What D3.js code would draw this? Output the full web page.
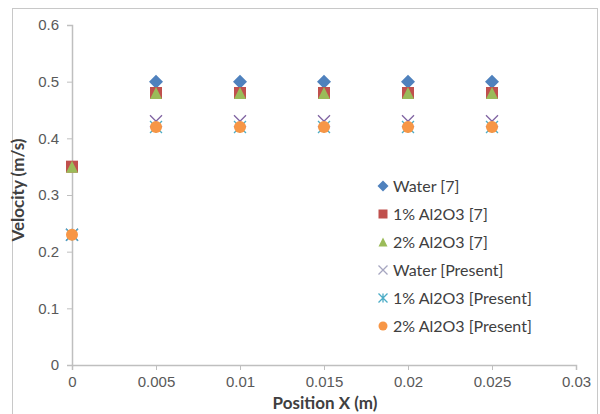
<!DOCTYPE html>
<html>
<head>
<meta charset="utf-8">
<script src="https://cdn.jsdelivr.net/npm/d3@7"></script>
<style>
  body { margin: 0; background: #fff; }
  svg { font-family: Lato, "Open Sans", sans-serif; }
</style>
</head>
<body>
<svg id="chart" width="600" height="414"></svg>
<script>
// positions along the pipe (m)
const positions = [0, 0.005, 0.01, 0.015, 0.02, 0.025];

// velocity series (m/s)
const water7 = [null, 0.5, 0.5, 0.5, 0.5, 0.5];
const al1_7 = [0.35, 0.48, 0.48, 0.48, 0.48, 0.48];
const al2_7 = [0.35, 0.48, 0.48, 0.48, 0.48, 0.48];
const waterPresent = [0.23, 0.43, 0.43, 0.43, 0.43, 0.43];
const al1Present = [0.23, 0.42, 0.42, 0.42, 0.42, 0.42];
const al2Present = [0.23, 0.42, 0.42, 0.42, 0.42, 0.42];

const xTicks = [0, 0.005, 0.01, 0.015, 0.02, 0.025, 0.03];
const yTicks = [0, 0.1, 0.2, 0.3, 0.4, 0.5, 0.6];

const series = [
  { name: 'Water [7]', values: water7, shape: 'diamond', color: '#4F81BD' },
  { name: '1% Al2O3 [7]', values: al1_7, shape: 'square', color: '#C0504D' },
  { name: '2% Al2O3 [7]', values: al2_7, shape: 'triangle', color: '#9BBB59' },
  { name: 'Water [Present]', values: waterPresent, shape: 'x', color: '#8064A2' },
  { name: '1% Al2O3 [Present]', values: al1Present, shape: 'star', color: '#4BACC6' },
  { name: '2% Al2O3 [Present]', values: al2Present, shape: 'circle', color: '#F79646' }
];

const svg = d3.select('#chart');
const margin = { top: 25, right: 24, bottom: 49, left: 72 };
const width = 600, height = 414;

// chart frame
svg.append('rect')
  .attr('x', 12.5).attr('y', 8.5)
  .attr('width', 585).attr('height', 410)
  .attr('fill', 'none').attr('stroke', '#c8c8c8');

const x = d3.scaleLinear().domain([0, 0.03]).range([margin.left, width - margin.right]);
const y = d3.scaleLinear().domain([0, 0.6]).range([height - margin.bottom, margin.top]);

const axisColor = '#bfbfbf';
const labelColor = '#595959';

// X axis
const gx = svg.append('g')
  .attr('transform', `translate(0,${y(0)})`)
  .call(d3.axisBottom(x).tickValues(xTicks).tickSize(5).tickPadding(6)
    .tickFormat(d => d === 0 ? '0' : String(+d.toFixed(3))));
gx.select('.domain').attr('stroke', axisColor).attr('stroke-width', 1.5);
gx.selectAll('.tick line').attr('stroke', axisColor);
gx.selectAll('.tick text').attr('fill', labelColor).attr('font-size', 15);

// Y axis
const gy = svg.append('g')
  .attr('transform', `translate(${x(0)},0)`)
  .call(d3.axisLeft(y).tickValues(yTicks).tickSize(5).tickPadding(8)
    .tickFormat(d => d === 0 ? '0' : d3.format('.1f')(d)));
gy.select('.domain').attr('stroke', axisColor).attr('stroke-width', 1.5);
gy.selectAll('.tick line').attr('stroke', axisColor);
gy.selectAll('.tick text').attr('fill', labelColor).attr('font-size', 15);

// axis titles
svg.append('text')
  .attr('x', 325).attr('y', 409)
  .attr('text-anchor', 'middle')
  .attr('font-size', 17).attr('font-weight', 'bold').attr('fill', '#404040')
  .text('Position X (m)');

svg.append('text')
  .attr('transform', `translate(24,${(margin.top + y(0)) / 2 - 5}) rotate(-90)`)
  .attr('text-anchor', 'middle')
  .attr('font-size', 17).attr('font-weight', 'bold').attr('fill', '#404040')
  .text('Velocity (m/s)');

function drawMarker(g, shape, color, size) {
  const s = size, h = s / 2;
  if (shape === 'diamond') {
    g.append('path').attr('d', `M0,${-h - 1}L${h + 1},0L0,${h + 1}L${-h - 1},0Z`).attr('fill', color);
  } else if (shape === 'square') {
    g.append('rect').attr('x', -h).attr('y', -h).attr('width', s).attr('height', s).attr('fill', color);
  } else if (shape === 'triangle') {
    g.append('path').attr('d', `M0,${-h}L${h},${h}L${-h},${h}Z`).attr('fill', color);
  } else if (shape === 'x') {
    g.append('path').attr('d', `M${-h},${-h}L${h},${h}M${-h},${h}L${h},${-h}`)
      .attr('stroke', color).attr('stroke-width', 1.3).attr('fill', 'none');
  } else if (shape === 'star') {
    g.append('path').attr('d', `M${-h},${-h}L${h},${h}M${-h},${h}L${h},${-h}M0,${-h}L0,${h}`)
      .attr('stroke', color).attr('stroke-width', 1.3).attr('fill', 'none');
  } else if (shape === 'circle') {
    g.append('circle').attr('r', h).attr('fill', color);
  }
}

// data points
series.forEach(sr => {
  const pts = positions.map((p, i) => ({ p, v: sr.values[i] })).filter(d => d.v != null);
  pts.forEach(d => {
    const g = svg.append('g').attr('transform', `translate(${x(d.p)},${y(d.v)})`);
    drawMarker(g, sr.shape, sr.color, 12);
  });
});

// legend
const legend = svg.append('g').attr('transform', 'translate(383,186)');
series.forEach((sr, i) => {
  const row = legend.append('g').attr('transform', `translate(0,${i * 28})`);
  drawMarker(row.append('g'), sr.shape, sr.shape === 'x' ? '#a6a6c0' : sr.color, 9);
  row.append('text')
    .attr('x', 10).attr('y', 6)
    .attr('font-size', 16).attr('fill', '#404040')
    .text(sr.name);
});
</script>
</body>
</html>
